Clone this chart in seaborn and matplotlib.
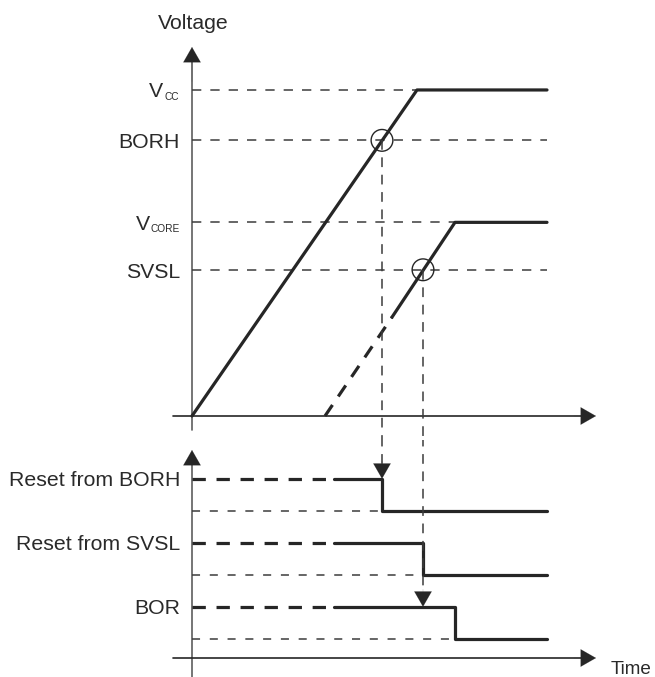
import numpy as np
import pandas as pd
import seaborn as sns
import matplotlib.pyplot as plt

# ---- data (arbitrary units) ----
# time axis: ramps, threshold crossings and reset steps
level_names = ["BORH", "SVSL"]
level_values = [2.79, 1.48]
vcc_level = 3.3
vcore_level = 1.96

vcc_t = [0.0, 22.5, 35.5]
vcc_v = [0.0, 3.3, 3.3]
core_dash_t = [13.3, 20.0]
core_dash_v = [0.0, 1.0]
core_t = [20.0, 26.3, 35.5]
core_v = [1.0, 1.96, 1.96]

cross_t = [19.0, 23.1]
cross_v = [2.79, 1.48]

signal_names = ["Reset from BORH", "Reset from SVSL", "BOR"]
signal_high = [5.6, 3.6, 1.6]
signal_low = [4.6, 2.6, 0.6]
signal_step_t = [19.0, 23.1, 26.3]
solid_from_t = 14.2
end_t = 35.5
# which signal each crossing arrow points to
arrow_target = [0, 2]

# ---- style ----
sns.set_theme(style="white")
plt.rcParams["font.family"] = ["Liberation Sans", "DejaVu Sans"]
plt.rcParams["lines.scale_dashes"] = False
INK = "#262626"
AXC = "#5e5e5e"
REFC = "#3c3c3c"
TXT = "#2a2a2a"
FS = 15.3
SUB = 7.3
THICK = 2.3

fig = plt.figure(figsize=(6.55, 6.77), dpi=100)
W, H = 655, 677
# upper panel covers pixel rows 0..440, lower panel 440..677
ax1 = fig.add_axes([0, (H - 440) / H, 1, 440 / H])
ax2 = fig.add_axes([0, 0, 1, 237 / H])
xlim = (-19.2, 46.3)
ax1.set_xlim(*xlim)
ax2.set_xlim(*xlim)
ax1.set_ylim(-24 / 98.8, 416 / 98.8)
ax2.set_ylim(-19 / 32, 218 / 32)
for ax in (ax1, ax2):
    ax.axis("off")


def head(ax, x, y, dx, dy, color=INK):
    ax.annotate("", xy=(x, y), xytext=(x + dx, y + dy),
                arrowprops=dict(arrowstyle="-|>,head_length=0.42,head_width=0.24",
                                mutation_scale=26, color=color, lw=0.1,
                                shrinkA=0, shrinkB=0))


# ---- upper panel: voltages ----
ax1.plot([0, 0], [-14 / 98.8, 3.65], color=AXC, lw=1.2)
head(ax1, 0, 369 / 98.8, 0, -0.35)
ax1.plot([-1.9, 39.5], [0, 0], color=INK, lw=1.2)
head(ax1, 40.4, 0, -2.2, 0)

for v in [vcc_level] + level_values + [vcore_level]:
    ax1.plot([0, end_t], [v, v], color=REFC, lw=1.1, dashes=(6.7, 6.5))

sns.lineplot(x=vcc_t, y=vcc_v, ax=ax1, color=INK, linewidth=THICK,
             estimator=None, sort=False)
sns.lineplot(x=core_t, y=core_v, ax=ax1, color=INK, linewidth=THICK,
             estimator=None, sort=False)
ax1.plot(core_dash_t, core_dash_v, color=INK, lw=THICK, dashes=(9.6, 7.4),
         solid_capstyle="butt", dash_capstyle="butt")

sns.scatterplot(x=cross_t, y=cross_v, ax=ax1, s=245, marker="o",
                facecolor="none", edgecolor=INK, linewidth=1.0, zorder=5)
for t, v in zip(cross_t, cross_v):
    ax1.plot([t, t], [v, -1], color=REFC, lw=1.1, dashes=(7, 5.5))

ax1.text(0.1, (416 - 29) / 98.8, "Voltage", ha="center", va="baseline",
         fontsize=FS, color=TXT)
for name, v in zip(level_names, level_values):
    ax1.annotate(name, xy=(-1.2, v), xytext=(0, -5.8), textcoords="offset points",
                 ha="right", va="baseline", fontsize=FS, color=TXT)
# V with small subscripts
for sub, v, vx in [("CC", vcc_level, -2.9), ("CORE", vcore_level, -4.2)]:
    ax1.annotate("V", xy=(vx, v), xytext=(0, -5.2), textcoords="offset points",
                 ha="right", va="baseline", fontsize=FS, color=TXT)
    ax1.annotate(sub, xy=(-1.25, v), xytext=(0, -7.2), textcoords="offset points",
                 ha="right", va="baseline", fontsize=SUB, color=TXT)

# ---- lower panel: reset signals ----
ax2.plot([0, 0], [-1, 6.1], color=AXC, lw=1.2)
head(ax2, 0, 6.5, 0, -0.5)
ax2.plot([-1.9, 39.5], [0, 0], color=INK, lw=1.2)
head(ax2, 40.4, 0, -2.2, 0)
ax2.text(41.9, -11 / 32, "Time", ha="left", va="center", fontsize=13.6, color=TXT)

for name, hi, lo, st in zip(signal_names, signal_high, signal_low, signal_step_t):
    ax2.plot([0, solid_from_t], [hi, hi], color=INK, lw=THICK, dashes=(9.6, 7.7))
    sig = pd.DataFrame({"t": [solid_from_t, st, st, end_t], "u": [hi, hi, lo, lo]})
    sns.lineplot(data=sig, x="t", y="u", ax=ax2, color=INK, linewidth=THICK,
                 estimator=None, sort=False)
    ax2.plot([0, st], [lo, lo], color=REFC, lw=1.1, dashes=(5.8, 7))
    ax2.annotate(name, xy=(-1.2, hi), xytext=(0, -5.5), textcoords="offset points",
                 ha="right", va="baseline", fontsize=FS, color=TXT)

for t, k in zip(cross_t, arrow_target):
    tip = signal_high[k]
    ax2.plot([t, t], [8, tip + 0.35], color=REFC, lw=1.1, dashes=(7, 5.5))
    head(ax2, t, tip, 0, 0.55)

fig.savefig("out.png", dpi=100)
